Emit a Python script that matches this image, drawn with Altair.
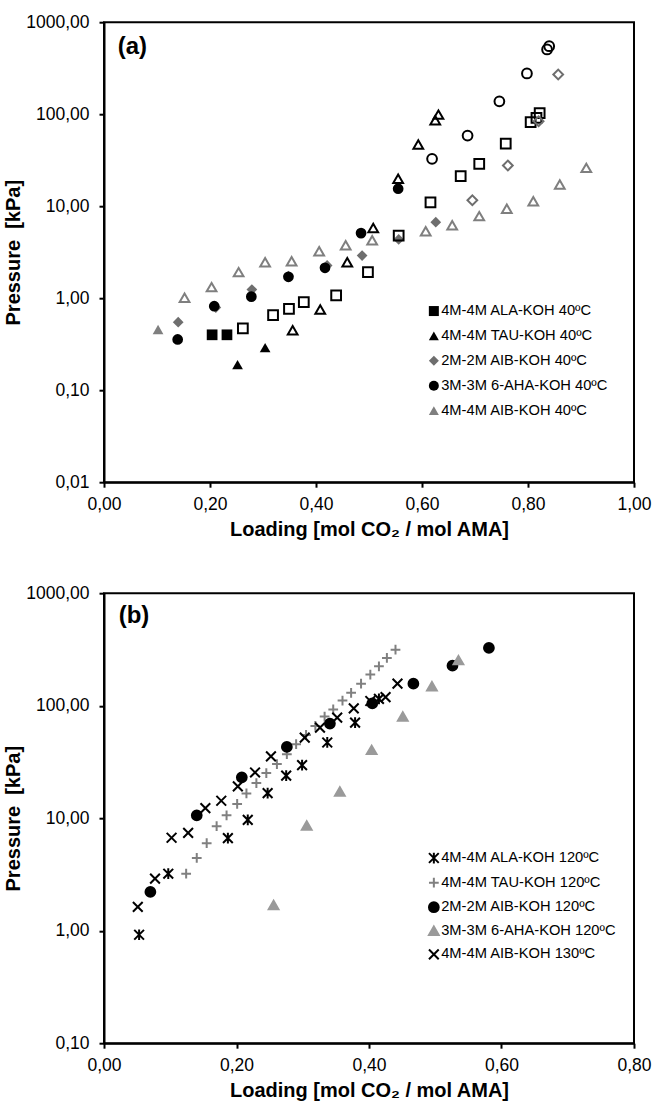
import altair as alt
import pandas as pd

FONT = "Liberation Sans"
LBL = "replace(format(datum.value, '.2f'), '.', ',')"

# ---------------- Panel (a) ----------------
A_NAMES = ["4M-4M ALA-KOH 40ºC", "4M-4M TAU-KOH 40ºC", "2M-2M AIB-KOH 40ºC",
           "3M-3M 6-AHA-KOH 40ºC", "4M-4M AIB-KOH 40ºC"]
A_COLORS = ["#000000", "#000000", "#6e6e6e", "#000000", "#7f7f7f"]
A_SHAPES = ["square", "triangle-up", "diamond", "circle", "triangle-up"]

# filled markers (shown in legend)
a_ala_x = [0.204, 0.232]
a_ala_y = [0.40, 0.40]
a_tau_x = [0.252, 0.304]
a_tau_y = [0.19, 0.29]
a_aib2_x = [0.140, 0.211, 0.279, 0.348, 0.421, 0.487, 0.556, 0.626]
a_aib2_y = [0.548, 0.79, 1.24, 1.74, 2.27, 2.91, 4.35, 6.7]
a_aha_x = [0.139, 0.208, 0.278, 0.348, 0.417, 0.485, 0.555]
a_aha_y = [0.356, 0.818, 1.04, 1.71, 2.14, 5.1, 15.5]
a_aib4_x = [0.102]
a_aib4_y = [0.457]

# open markers (no legend entry)
a_ala_open_x = [0.262, 0.319, 0.349, 0.377, 0.438, 0.498, 0.556, 0.616, 0.673,
                0.708, 0.758, 0.805, 0.816, 0.822]
a_ala_open_y = [0.469, 0.653, 0.767, 0.905, 1.07, 1.92, 4.8, 11.0, 21.2,
                28.9, 48.0, 82.0, 91.0, 103.0]
a_tau_open_x = [0.356, 0.408, 0.459, 0.508, 0.555, 0.593, 0.625, 0.631]
a_tau_open_y = [0.449, 0.753, 2.46, 5.8, 19.9, 46.9, 86.0, 99.0]
a_aib2_open_x = [0.695, 0.762, 0.820, 0.857]
a_aib2_open_y = [11.6, 27.7, 84.0, 270.0]
a_aha_open_x = [0.619, 0.686, 0.746, 0.798, 0.836, 0.840]
a_aha_open_y = [32.7, 58.6, 138.0, 277.0, 505.0, 548.0]
a_aib4_open_x = [0.152, 0.203, 0.254, 0.304, 0.354, 0.406, 0.456, 0.506, 0.607,
                 0.657, 0.708, 0.760, 0.810, 0.860, 0.910]
a_aib4_open_y = [1.01, 1.32, 1.92, 2.46, 2.52, 3.24, 3.77, 4.27, 5.35,
                 6.2, 7.8, 9.4, 11.3, 17.2, 26.1]

# ---------------- Panel (b) ----------------
B_NAMES = ["4M-4M ALA-KOH 120ºC", "4M-4M TAU-KOH 120ºC", "2M-2M AIB-KOH 120ºC",
           "3M-3M 6-AHA-KOH 120ºC", "4M-4M AIB-KOH 130ºC"]
B_COLORS = ["#000000", "#808080", "#000000", "#9a9a9a", "#000000"]
ASTERISK = "M-1,-1L1,1M-1,1L1,-1M0,-1.1L0,1.1"
PLUS = "M-1,0L1,0M0,-1L0,1"
XMARK = "M-1,-1L1,1M-1,1L1,-1"
B_SHAPES = [ASTERISK, PLUS, "circle", "triangle-up", XMARK]

b_ala_x = [0.053, 0.097, 0.187, 0.217, 0.247, 0.275, 0.299, 0.337, 0.379, 0.415]
b_ala_y = [0.92, 3.21, 6.65, 9.66, 16.7, 23.9, 29.6, 47.1, 70.8, 115.0]
b_tau_x = [0.124, 0.140, 0.155, 0.170, 0.185, 0.201, 0.215, 0.230, 0.245, 0.261,
           0.276, 0.290, 0.305, 0.319, 0.333, 0.346, 0.360, 0.373, 0.388, 0.402,
           0.415, 0.427, 0.440]
b_tau_y = [3.21, 4.43, 6.0, 8.5, 10.6, 13.4, 16.6, 20.5, 25.2, 30.3,
           37.1, 45.5, 55.0, 66.0, 80.0, 92.7, 111.0, 130.0, 157.0, 189.0,
           224.0, 266.0, 315.0]
b_aib_x = [0.070, 0.140, 0.208, 0.276, 0.341, 0.405, 0.467, 0.526, 0.581]
b_aib_y = [2.21, 10.6, 23.1, 43.0, 69.3, 105.0, 157.0, 227.0, 326.0]
b_aha_x = [0.256, 0.306, 0.356, 0.404, 0.451, 0.495, 0.535]
b_aha_y = [1.69, 8.6, 17.3, 40.5, 80.0, 149.0, 254.0]
b_aib130_x = [0.051, 0.077, 0.102, 0.127, 0.153, 0.177, 0.202, 0.228, 0.252,
              0.303, 0.326, 0.352, 0.377, 0.402, 0.425, 0.443]
b_aib130_y = [1.63, 2.90, 6.7, 7.4, 12.3, 14.3, 19.2, 25.5, 35.4,
              52.1, 63.8, 78.3, 94.6, 110.0, 119.0, 157.0]


def rows(name, xs, ys, kind):
    return [{"series": name, "x": a, "y": b, "kind": kind} for a, b in zip(xs, ys)]


recs_a = []
for nm, xs, ys in zip(A_NAMES, [a_ala_x, a_tau_x, a_aib2_x, a_aha_x, a_aib4_x],
                      [a_ala_y, a_tau_y, a_aib2_y, a_aha_y, a_aib4_y]):
    recs_a += rows(nm, xs, ys, "filled")
for nm, xs, ys in zip(A_NAMES, [a_ala_open_x, a_tau_open_x, a_aib2_open_x, a_aha_open_x, a_aib4_open_x],
                      [a_ala_open_y, a_tau_open_y, a_aib2_open_y, a_aha_open_y, a_aib4_open_y]):
    recs_a += rows(nm, xs, ys, "open")
df_a = pd.DataFrame(recs_a)

recs_b = []
for nm, xs, ys in zip(B_NAMES, [b_ala_x, b_tau_x, b_aib_x, b_aha_x, b_aib130_x],
                      [b_ala_y, b_tau_y, b_aib_y, b_aha_y, b_aib130_y]):
    recs_b += rows(nm, xs, ys, "filled")
df_b = pd.DataFrame(recs_b)

XTITLE = "Loading [mol CO₂ / mol AMA]"
YTITLE = "Pressure\u00a0 [kPa]"


def x_axis(vals):
    return alt.Axis(values=vals, labelExpr=LBL, title=XTITLE, tickSize=5,
                    labelPadding=8, titlePadding=7, grid=False, labelFlush=False,
                    labelOverlap=False)


def y_axis(vals):
    return alt.Axis(values=vals, labelExpr=LBL, title=YTITLE, tickSize=5,
                    labelPadding=10, titlePadding=2.6, grid=False, labelFlush=False,
                    labelOverlap=False)


W = 530

# ----- chart (a)
xa = alt.X("x:Q", scale=alt.Scale(domain=[0, 1], nice=False, zero=False),
           axis=x_axis([0, 0.2, 0.4, 0.6, 0.8, 1.0]))
ya = alt.Y("y:Q", scale=alt.Scale(type="log", domain=[0.01, 1000], nice=False),
           axis=y_axis([0.01, 0.1, 1, 10, 100, 1000]))
leg_a = alt.Legend(title=None, orient="none", legendX=322.5, legendY=281.5, padding=0,
                   symbolSize=100, labelFontSize=14.7, labelFont=FONT, labelColor="black",
                   rowPadding=8.9, labelOffset=0, labelLimit=400, symbolStrokeWidth=0)
col_a = alt.Scale(domain=A_NAMES, range=A_COLORS)
shp_a = alt.Scale(domain=A_NAMES, range=A_SHAPES)
col_a_open = alt.Scale(domain=A_NAMES, range=A_COLORS)
shp_a_open = alt.Scale(domain=A_NAMES, range=A_SHAPES)

base_a = alt.Chart(df_a)
filled_a = base_a.transform_filter(alt.datum.kind == "filled").mark_point(
    filled=True, size=115, opacity=1).encode(
    x=xa, y=ya,
    color=alt.Color("series:N", scale=col_a, legend=leg_a),
    shape=alt.Shape("series:N", scale=shp_a, legend=leg_a))
open_a = base_a.transform_filter(alt.datum.kind == "open").mark_point(
    filled=False, size=95, strokeWidth=2, opacity=1).encode(
    x=xa, y=ya,
    color=alt.Color("series:N", scale=col_a_open, legend=None),
    shape=alt.Shape("series:N", scale=shp_a_open, legend=None))
lab_a = alt.Chart(pd.DataFrame({"t": ["(a)"]})).mark_text(
    align="left", baseline="middle", font=FONT, fontSize=24, fontWeight="bold",
    color="black").encode(text="t:N", x=alt.value(13.7), y=alt.value(24.8))
chart_a = alt.layer(filled_a, open_a, lab_a).resolve_scale(
    color="independent", shape="independent").properties(width=W, height=460)

# ----- chart (b)
xb = alt.X("x:Q", scale=alt.Scale(domain=[0, 0.8], nice=False, zero=False),
           axis=x_axis([0, 0.2, 0.4, 0.6, 0.8]))
yb = alt.Y("y:Q", scale=alt.Scale(type="log", domain=[0.1, 1000], nice=False),
           axis=y_axis([0.1, 1, 10, 100, 1000]))
leg_b = alt.Legend(title=None, orient="none", legendX=322.5, legendY=257.5, padding=0,
                   symbolSize=95, labelFontSize=14.7, labelFont=FONT, labelColor="black",
                   rowPadding=5.6, labelOffset=0, labelLimit=400, symbolStrokeWidth=2)
fill_b = alt.Scale(domain=B_NAMES, range=B_COLORS)
strk_b = alt.Scale(domain=B_NAMES, range=B_COLORS)
shp_b = alt.Scale(domain=B_NAMES, range=B_SHAPES)
pts_b = alt.Chart(df_b).mark_point(filled=True, size=95, strokeWidth=2, opacity=1).encode(
    x=xb, y=yb,
    fill=alt.Fill("series:N", scale=fill_b, legend=leg_b),
    stroke=alt.Stroke("series:N", scale=strk_b, legend=leg_b),
    shape=alt.Shape("series:N", scale=shp_b, legend=leg_b))
lab_b = alt.Chart(pd.DataFrame({"t": ["(b)"]})).mark_text(
    align="left", baseline="middle", font=FONT, fontSize=24, fontWeight="bold",
    color="black").encode(text="t:N", x=alt.value(14.7), y=alt.value(22.7))
chart_b = alt.layer(pts_b, lab_b).properties(width=W, height=450)

chart = alt.vconcat(chart_a, chart_b, spacing=42).resolve_scale(
    color="independent", shape="independent", fill="independent",
    stroke="independent", x="independent", y="independent"
).resolve_legend(color="independent", shape="independent", fill="independent",
                 stroke="independent").properties(
    padding={"left": 2, "top": 12.2, "right": 0, "bottom": 4}
).configure(background="white").configure_view(
    stroke="black", strokeWidth=2
).configure_axis(
    domainColor="black", domainWidth=2, tickColor="black", tickWidth=2,
    labelFont=FONT, labelFontSize=17.5, labelColor="black",
    titleFont=FONT, titleFontSize=20, titleFontWeight="bold", titleColor="black",
    grid=False
)

chart.save("out.html", embed_options={"renderer": "svg", "actions": False})
